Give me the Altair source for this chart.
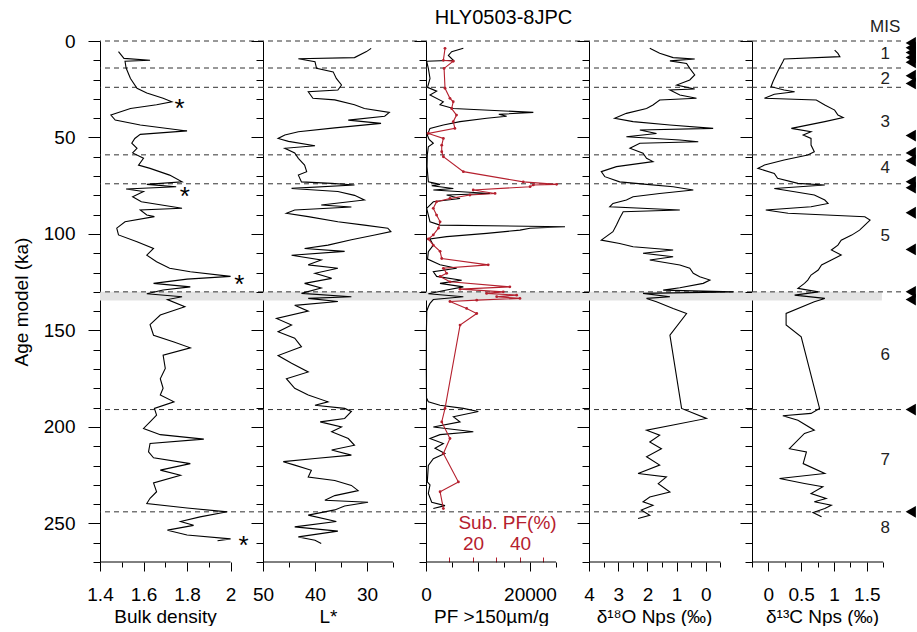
import altair as alt
import pandas as pd

FONT = "Liberation Sans"
RED = "#b5202e"
W, H = 163, 521

# ---------------- data ----------------
mis_bounds = [0, 14, 24, 59, 74, 130, 191, 244]
grey_band = [130, 134.5]
mis_names = ["1", "2", "3", "4", "5", "6", "7", "8"]
mis_label_age = [6.5, 19.5, 42, 66, 101, 162.5, 217, 252.5]
marker_age = [1, 3.5, 6, 8.5, 11, 18, 22, 49, 58, 62, 73, 76, 89, 108, 130, 134, 191, 244]
core_name = "HLY0503-8JPC"

bulk_density = [
    (5.5, 1.485), (9, 1.51), (10, 1.63), (10.5, 1.515), (14, 1.52), (19.4, 1.54), (24.5, 1.57),
    (27, 1.615), (29.7, 1.69), (31.5, 1.73), (33, 1.66), (35, 1.54), (38.4, 1.45), (41, 1.47),
    (43.5, 1.585), (46.6, 1.80), (48.4, 1.585), (50.5, 1.56), (53, 1.546), (55.6, 1.57), (58, 1.55),
    (60.8, 1.60), (64.3, 1.577), (66, 1.63), (69.5, 1.72), (73, 1.777), (74.3, 1.615), (75.5, 1.75),
    (76.7, 1.52), (78, 1.6), (80.7, 1.55), (83.3, 1.59), (86.7, 1.777), (87.6, 1.585), (90.2, 1.615),
    (91, 1.65), (93.7, 1.515), (97, 1.477), (100.5, 1.485), (104, 1.57), (107.5, 1.646), (111, 1.615),
    (114.4, 1.66), (117.8, 1.72), (119.6, 1.815), (122, 2.0), (123.4, 1.8), (125.6, 1.646),
    (127.4, 1.815), (129, 1.69), (131, 1.615), (132.5, 1.777), (134, 1.71), (137.7, 1.79),
    (142, 1.677), (147, 1.63), (152.5, 1.646), (156, 1.74), (159, 1.815), (162.8, 1.69),
    (169.7, 1.70), (175, 1.677), (180, 1.69), (183.5, 1.677), (187, 1.74), (190.4, 1.65),
    (193.9, 1.66), (197.4, 1.63), (200.8, 1.6), (204, 1.677), (206.3, 1.877), (208.6, 1.63),
    (212.9, 1.623), (216, 1.646), (219, 1.815), (222.4, 1.677), (225, 1.77), (229, 1.646),
    (233.6, 1.66), (237, 1.63), (239.7, 1.615), (242, 1.8), (244, 1.985), (246.6, 1.86), (249, 1.77),
    (251, 1.83), (253.5, 1.71), (256, 1.8), (258, 2.0), (259, 1.94),
]
asterisks = [(31.5, 1.766), (77, 1.79), (123, 2.04), (258, 2.06)]

lightness = [
    (3.8, 29.2), (5.5, 30.1), (8.6, 32.4), (9.2, 43.2), (10.7, 40.0), (14.2, 39.7), (16, 36.5),
    (19.4, 35.9), (22.8, 34.9), (25.4, 35.6), (26.3, 41.3), (29.7, 40.4), (30.5, 36.2), (33, 32.4),
    (35, 30.5), (37, 25.7), (39, 26.6), (41, 33.6), (42.7, 27.3), (45, 36.2), (47, 43.2), (48.7, 45.8),
    (50.5, 47.1), (52, 45.1), (54.3, 40.0), (55.6, 45.8), (58, 43.9), (60.8, 43.2), (64.3, 42.0),
    (67.7, 41.6), (69.5, 43.2), (73, 42.6), (73.8, 36.8), (74.6, 32.4), (76.4, 44.5), (78, 35.6),
    (80, 32.4), (82.4, 30.5), (85, 38.8), (86, 33.0), (87.6, 43.9), (89.3, 45.5), (91, 41.3),
    (93.7, 35.6), (95.4, 30.5), (97, 26.0), (98.8, 25.4), (100.5, 28.5), (103, 33.0), (105.8, 37.5),
    (107.5, 42.0), (109, 34.3), (111, 44.5), (113.5, 38.8), (116, 41.3), (117.8, 35.6), (120.4, 40.0),
    (123, 36.8), (125.6, 42.0), (128, 38.8), (130.8, 42.6), (132.5, 33.0), (133.4, 41.3),
    (135, 35.6), (137, 43.9), (140, 41.3), (143.8, 47.4), (147.2, 44.5), (150.7, 47.1), (154, 43.9),
    (158.5, 42.6), (163, 47.1), (167, 44.5), (171.5, 41.3), (175, 45.5), (180, 43.9), (183.5, 41.3),
    (187, 37.5), (188.8, 40.0), (190.4, 34.3), (192, 33.0), (195.6, 34.3), (197.4, 39.0), (200, 34.9),
    (202.5, 36.8), (206, 33.6), (209.5, 32.4), (212, 36.8), (214.6, 33.0), (216.4, 40.0), (218, 46.1),
    (219.8, 43.9), (222.5, 40.7), (226, 41.3), (227.8, 36.2), (230.3, 33.0), (233, 31.7), (235.6, 36.2),
    (238, 38.1), (239, 29.8), (241, 34.3), (243, 36.2), (245.7, 41.3), (249, 35.9), (251.8, 43.9),
    (254, 35.6), (257, 43.2), (258.7, 40.0), (260.4, 38.8),
]

pf_count = [
    (3.8, 7180), (5.5, 4935), (7.5, 4300), (10, 5256), (10.5, 130), (14.2, 450), (19.4, 770),
    (24, 300), (26, 2050), (28, 770), (31.5, 3333), (33, 2690), (35, 5256), (37, 20640), (38, 14000),
    (39, 15510), (40, 11670), (41.8, 6540), (43.5, 3333), (45.3, 770), (48.7, 250), (51, 600),
    (53, 1410), (54.8, 450), (59, 250), (65, 200), (73, 450), (74.3, 2690), (75, 1100), (76.4, 5256),
    (77.2, 1410), (79, 12300), (79.8, 3970), (81.6, 6540), (83.3, 1410), (86.7, 130), (93.7, 770),
    (95.4, 2690), (96.3, 26730), (97, 20000), (98, 18080), (99.7, 11670), (101.4, 3970),
    (102.6, 770), (105.8, 1410), (109.2, 450), (113, 300), (116, 2690), (117.8, 5900), (119.6, 1410),
    (122, 2050), (124, 6860), (125.6, 2690), (127.4, 7180), (129, 3970), (131, 450), (132.5, 7180),
    (134, 1410), (136, 770), (137.7, 450), (140, 150), (150, 80), (170, 60), (185, 100), (187, 450),
    (188.8, 2690), (190.4, 7180), (192, 10060), (194.7, 5256), (197.4, 6540), (200, 1410),
    (202.5, 9100), (204, 2690), (206, 770), (208.6, 3333), (211, 1730), (213.8, 3650), (216.5, 1410),
    (220, 450), (228.5, 250), (230, 770), (234.5, 450), (239, 1100), (240.8, 3650), (242.3, 1410),
]

sub_pf_pct = [
    (3.8, 8.1), (10, 7.4), (10.5, 11.6), (14.2, 7.7), (24.5, 8.1), (29.7, 10.2), (31.5, 11.6),
    (35, 10.9), (38.4, 13.0), (41.8, 11.6), (45.3, 12.3), (47.9, 1.0), (50.5, 7.4), (54, 6.7),
    (57.4, 6.7), (60, 7.4), (67.7, 15.9), (73, 41.4), (74.3, 55.6), (74.6, 45.7), (75.5, 44.3),
    (77.2, 20.1), (79, 29.4), (79.8, 18.7), (81.6, 10.2), (83.3, 4.5), (86.7, 3.1), (90.2, 4.5),
    (93.7, 6.0), (97, 5.3), (100.5, 3.1), (102.6, 1.0), (105.8, 3.1), (109, 6.0), (112.7, 6.7),
    (116, 26.5), (117.8, 7.4), (120.4, 8.8), (122, 6.0), (124.8, 10.2), (127.4, 35.7), (128.6, 14.5),
    (130, 32.9), (130.8, 25.8), (131.7, 38.6), (132.5, 30.1), (133.4, 40.0), (134.3, 21.6),
    (135, 10.2), (138.6, 17.3), (141.2, 21.6), (147.2, 14.5), (190.4, 8.1), (197.4, 6.7),
    (206, 10.2), (213.8, 7.4), (228.5, 13.8), (233.6, 6.0), (242.3, 7.4),
]

d18o = [
    (3.8, 1.92), (6.4, 1.58), (8.6, 1.12), (9.3, 0.38), (10.3, 1.23), (11.6, 0.66), (14.2, 0.55),
    (17.6, 0.38), (20.2, 0.55), (22.8, 1.0), (24.9, 0.38), (25.4, 1.23), (28, 0.89), (29.7, 0.32),
    (30.6, 1.58), (33.2, 1.81), (35, 2.03), (37.5, 2.72), (40, 3.12), (41.8, 2.49), (43.5, 1.23),
    (45.3, -0.25), (46.1, 2.26), (47.9, 1.69), (49.6, 2.72), (51.3, 0.89), (52.2, 0.26), (53, 2.26),
    (55.6, 2.6), (58.2, 2.15), (60.8, 2.03), (62.5, 1.81), (65.1, 3.06), (67.7, 3.58), (70.3, 3.46),
    (73, 2.95), (74.3, 2.03), (75.5, 1.12), (77.2, 0.43), (79, 1.58), (80.7, 2.49), (82.4, 2.72),
    (84.2, 3.18), (85.9, 3.29), (87.6, 0.89), (88.5, 2.83), (91.9, 2.95), (95.4, 3.06), (98.8, 3.18),
    (103.2, 3.58), (104.9, 2.95), (106.6, 2.49), (108.3, 1.12), (110, 2.15), (111.8, 1.12),
    (113.5, 1.92), (116.1, 0.89), (117.8, 0.55), (120.4, 0.43), (122.2, 0.21), (123.9, -0.14),
    (125.6, 0.09), (127.9, 0.89), (129.1, 1.46), (130, -0.94), (130.8, 2.15), (132.5, 1.23),
    (133.4, 2.03), (135.1, 1.69), (138.6, 1.12), (141.2, 0.66), (152.4, 1.23), (190.4, 0.83),
    (195.6, -0.02), (199, 1.12), (201.7, 2.03), (204.3, 1.58), (207.8, 1.92), (211.3, 1.52),
    (215.5, 2.03), (219.8, 1.58), (224.1, 2.32), (225.9, 1.35), (229.4, 1.63), (233.7, 1.23),
    (236.3, 1.92), (238.8, 2.15), (240.6, 1.81), (243.1, 2.21), (245.8, 1.92), (247.5, 2.32),
]

d13c = [
    (4.7, 1.01), (6.4, 1.06), (8.1, 1.09), (9.3, 0.24), (10.7, 0.22), (15.9, 0.14), (21, 0.07),
    (23.7, 0.04), (25.4, 0.24), (26.3, 0.40), (27.6, 0.09), (29.7, -0.06), (30.6, 0.73), (33.2, 0.86),
    (35.8, 1.01), (38.4, 1.06), (39.7, 1.14), (41.8, 0.86), (45.3, 0.35), (47, 0.65), (48.7, 0.53),
    (50.5, 0.65), (53.9, 0.65), (57.4, 0.70), (59.1, 0.60), (61.7, 0.24), (64.3, -0.06), (66, -0.16),
    (68.6, 0.09), (71.2, 0.14), (73.8, 0.45), (74.6, 0.86), (76.4, 0.09), (78.1, 0.40), (79.8, 0.70),
    (82.4, 0.86), (84.2, 0.91), (85.9, 0.65), (87.6, -0.04), (89.3, 0.30), (91.1, 1.47), (92.8, 1.55),
    (95.4, 1.47), (98, 1.39), (100.6, 1.27), (103.2, 1.11), (105.8, 1.06), (108.3, 0.96),
    (110.9, 1.11), (113.5, 0.96), (116.1, 0.81), (118.7, 0.76), (121.3, 0.65), (123.9, 0.60),
    (125.6, 0.55), (128.2, 0.45), (130, 0.76), (131.7, 0.40), (133.4, 0.86), (135.1, 0.70),
    (141.2, 0.27), (147.2, 0.27), (153.3, 0.50), (190.4, 0.78), (193, 0.65), (194.2, 0.22),
    (196.5, 0.45), (201.7, 0.70), (203.4, 0.55), (211.3, 0.32), (213, 0.58), (219, 0.53),
    (224.1, 0.86), (226.7, 0.17), (229.3, 0.55), (231, 0.83), (234.5, 0.65), (237.1, 0.88),
    (238.8, 0.70), (240.6, 0.96), (242.3, 0.86), (244.4, 0.68), (246.6, 0.81),
]


def frame(pairs):
    return pd.DataFrame(pairs, columns=["age", "v"])


# ---------------- helpers ----------------
yscale = alt.Scale(domain=[0, 270], reverse=True, nice=False, zero=False)
YTICKS = list(range(0, 271, 10))


def y_axis(first):
    cond = "datum.value % 50 === 0"
    common = dict(values=YTICKS, grid=False,
                  tickSize={"condition": {"test": cond, "value": 12}, "value": 7})
    if first:
        return alt.Axis(labelExpr=f"({cond}) ? datum.label : ''", title="Age model (ka)",
                        labelPadding=13, titlePadding=12, **common)
    return alt.Axis(labels=False, title=None, **common)


def x_axis(values, label_test, major_test, title, title_x=65):
    return alt.Axis(values=values, labelExpr=f"({label_test}) ? datum.label : ''", format="~f",
                    tickSize={"condition": {"test": major_test, "value": 9}, "value": 5},
                    domain=False, grid=False, title=title, titleX=title_x,
                    labelPadding=14, titlePadding=3)


def base_layers(xs, xa, ya, axis_from, axis_to, rule_span=None, band_span=None):
    band_enc = dict(y=alt.Y("a:Q", scale=yscale, axis=ya), y2="b:Q")
    if band_span:
        band_enc.update(x=alt.XDatum(band_span[0], scale=xs, axis=xa), x2=alt.X2Datum(band_span[1]))
    band = alt.Chart(pd.DataFrame({"a": [grey_band[0]], "b": [grey_band[1]]})).mark_rect(
        color="#e3e3e3").encode(**band_enc)
    rule_enc = dict(y=alt.Y("age:Q", scale=yscale, axis=ya))
    if rule_span:
        rule_enc.update(x=alt.XDatum(rule_span[0], scale=xs, axis=xa), x2=alt.X2Datum(rule_span[1]))
    dashed = alt.Chart(pd.DataFrame({"age": mis_bounds})).mark_rule(
        color="#333333", strokeDash=[5, 4], strokeWidth=1).encode(**rule_enc)
    axis_line = alt.Chart(pd.DataFrame({"k": [0]})).mark_rule(color="black", strokeWidth=1).encode(
        x=alt.XDatum(axis_from, scale=xs, axis=xa), x2=alt.X2Datum(axis_to),
        y=alt.YDatum(270, scale=yscale, axis=ya))
    return band, dashed, axis_line


def trace(df, xs, xa, ya, color="black"):
    return alt.Chart(df).mark_line(color=color, strokeWidth=1.1).encode(
        x=alt.X("v:Q", scale=xs, axis=xa), y=alt.Y("age:Q", scale=yscale, axis=ya),
        order="age:Q")


# ---------------- panel 1 : bulk density ----------------
xs1 = alt.Scale(domain=[1.4, 2.149], nice=False, zero=False)
xa1 = x_axis([1.4, 1.5, 1.6, 1.7, 1.8, 1.9, 2.0], "round(datum.value*10) % 2 === 0",
             "round(datum.value*10) % 2 === 0", "Bulk density")
ya1 = y_axis(True)
b1, d1, l1 = base_layers(xs1, xa1, ya1, 1.4, 2.0)
stars = alt.Chart(frame(asterisks)).mark_text(text="*", fontSize=26, dy=7, color="black").encode(
    x=alt.X("v:Q", scale=xs1, axis=xa1), y=alt.Y("age:Q", scale=yscale, axis=ya1))
p1 = alt.layer(b1, d1, trace(frame(bulk_density), xs1, xa1, ya1), l1, stars).properties(width=W, height=H)

# ---------------- panel 2 : L* ----------------
xs2 = alt.Scale(domain=[18.65, 50], reverse=True, nice=False, zero=False)
xa2 = x_axis([50, 45, 40, 35, 30, 25], "datum.value % 10 === 0", "datum.value % 10 === 0", "L*")
ya2 = y_axis(False)
b2, d2, l2 = base_layers(xs2, xa2, ya2, 50, 25)
p2 = alt.layer(b2, d2, trace(frame(lightness), xs2, xa2, ya2), l2).properties(width=W, height=H)

# ---------------- panel 3 : PF ----------------
xs3 = alt.Scale(domain=[0, 31346], nice=False, zero=False)
xa3 = x_axis([0, 5000, 10000, 15000, 20000, 25000], "datum.value % 20000 === 0",
             "datum.value % 10000 === 0", "PF >150µm/g")
ya3 = y_axis(False)
b3, d3, l3 = base_layers(xs3, xa3, ya3, 0, 25000)
head = alt.Chart(pd.DataFrame({"t": [core_name]})).mark_text(fontSize=20, color="black").encode(
    x=alt.XDatum(14900, scale=xs3, axis=xa3), y=alt.YDatum(-12.1, scale=yscale, axis=ya3), text="t:N")
inner3 = alt.layer(b3, d3, trace(frame(pf_count), xs3, xa3, ya3), l3, head)
xs3r = alt.Scale(domain=[0, 69.4], nice=False, zero=False)
xa3r = alt.Axis(orient="top", offset=-H, domain=False, grid=False, values=[10, 20, 30, 40, 50],
                labelExpr="datum.value % 20 === 0 ? datum.label : ''", format="d",
                tickColor=RED, labelColor=RED, titleColor=RED, tickSize=5, labelPadding=4,
                title="Sub. PF(%)", titleX=81, titlePadding=2)
red = alt.Chart(frame(sub_pf_pct)).mark_line(
    color=RED, strokeWidth=1.1, point=alt.OverlayMarkDef(filled=True, size=8, color=RED)).encode(
    x=alt.X("v:Q", scale=xs3r, axis=xa3r), y=alt.Y("age:Q", scale=yscale, axis=ya3), order="age:Q")
p3 = alt.layer(inner3, red).resolve_scale(x="independent").properties(width=W, height=H)

# ---------------- panel 4 : d18O ----------------
xs4 = alt.Scale(domain=[-1.58, 4], reverse=True, nice=False, zero=False)
xa4 = x_axis([4, 3.5, 3, 2.5, 2, 1.5, 1, 0.5, 0, -0.5], "datum.value % 1 === 0",
             "datum.value % 1 === 0", "δ¹⁸O Nps (‰)")
ya4 = y_axis(False)
b4, d4, l4 = base_layers(xs4, xa4, ya4, 4, -0.5)
p4 = alt.layer(b4, d4, trace(frame(d18o), xs4, xa4, ya4), l4).properties(width=W, height=H)

# ---------------- panel 5 : d13C ----------------
xs5 = alt.Scale(domain=[-0.25, 2.235], nice=False, zero=False)
xa5 = x_axis([-0.25, 0, 0.25, 0.5, 0.75, 1, 1.25, 1.5, 1.75], "round(datum.value*4) % 2 === 0",
             "round(datum.value*4) % 2 === 0", "δ¹³C Nps (‰)", title_x=70)
ya5 = y_axis(False)
b5, d5, l5 = base_layers(xs5, xa5, ya5, -0.25, 1.75, rule_span=(-0.25, 2.07), band_span=(-0.25, 1.73))
mis_df = pd.DataFrame({"age": mis_label_age, "name": mis_names})
mis_txt = alt.Chart(mis_df).mark_text(fontSize=17, color="#222222").encode(
    x=alt.XDatum(1.78, scale=xs5, axis=xa5), y=alt.Y("age:Q", scale=yscale, axis=ya5), text="name:N")
mis_head = alt.Chart(pd.DataFrame({"t": ["MIS"]})).mark_text(fontSize=17, color="#222222").encode(
    x=alt.XDatum(1.78, scale=xs5, axis=xa5), y=alt.YDatum(-7.4, scale=yscale, axis=ya5), text="t:N")
tri = alt.Chart(pd.DataFrame({"age": marker_age})).mark_point(
    shape="triangle-left", filled=True, color="black", size=140, opacity=1).encode(
    x=alt.XDatum(2.17, scale=xs5, axis=xa5), y=alt.Y("age:Q", scale=yscale, axis=ya5))
p5 = alt.layer(b5, d5, trace(frame(d13c), xs5, xa5, ya5), l5, mis_txt, mis_head, tri).properties(
    width=W, height=H)

chart = alt.hconcat(p1, p2, p3, p4, p5, spacing=0, bounds="flush").resolve_scale(
    x="independent", y="independent").properties(
    padding={"left": 12, "top": 7, "right": 0, "bottom": 0},
).configure_view(stroke=None).configure_axis(
    labelFont=FONT, titleFont=FONT, labelFontSize=19, titleFontSize=19, labelColor="black",
    titleColor="black", titleFontWeight="normal", tickColor="black", domainColor="black",
    labelOverlap=False, labelFlush=False, tickWidth=1, domainWidth=1,
).configure_text(font=FONT)

chart.save("out.html", embed_options={"renderer": "svg", "actions": False})
